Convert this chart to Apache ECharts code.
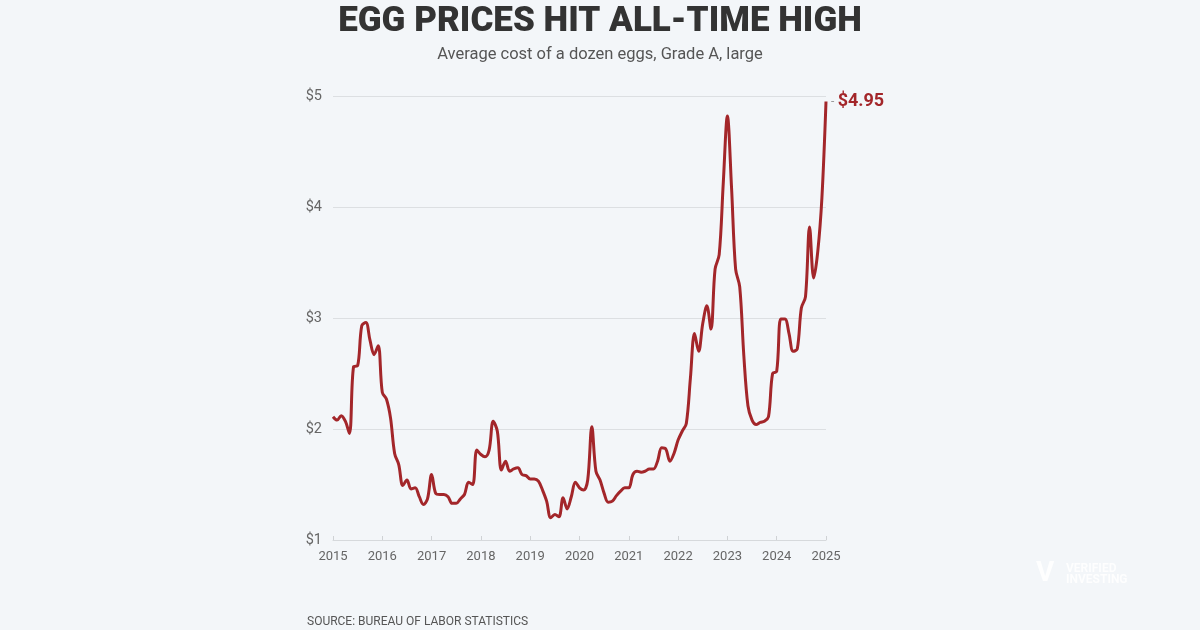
<!DOCTYPE html>
<html>
<head>
<meta charset="utf-8">
<script src="https://cdn.jsdelivr.net/npm/echarts@6/dist/echarts.min.js"></script>
<style>
html,body{margin:0;padding:0;background:#f3f6f9;}
#chart{width:1200px;height:630px;}
</style>
</head>
<body>
<div id="chart"></div>
<script>
// Monthly average price, dozen Grade A large eggs (USD)
var years = [2015, 2016, 2017, 2018, 2019, 2020, 2021, 2022, 2023, 2024, 2025];
var p2015 = [2.11, 2.08, 2.12, 2.07, 1.96, 2.56, 2.57, 2.93, 2.96, 2.80, 2.67, 2.75];
var p2016 = [2.33, 2.27, 2.10, 1.78, 1.68, 1.49, 1.54, 1.46, 1.47, 1.39, 1.32, 1.37];
var p2017 = [1.59, 1.42, 1.41, 1.41, 1.39, 1.33, 1.33, 1.37, 1.41, 1.52, 1.50, 1.81];
var p2018 = [1.77, 1.75, 1.81, 2.07, 1.98, 1.63, 1.71, 1.62, 1.64, 1.65, 1.59, 1.58];
var p2019 = [1.55, 1.55, 1.53, 1.45, 1.35, 1.20, 1.23, 1.21, 1.38, 1.28, 1.39, 1.52];
var p2020 = [1.47, 1.45, 1.54, 2.02, 1.62, 1.54, 1.42, 1.34, 1.35, 1.40, 1.44, 1.47];
var p2021 = [1.47, 1.59, 1.62, 1.61, 1.62, 1.64, 1.64, 1.71, 1.83, 1.82, 1.71, 1.78];
var p2022 = [1.90, 1.98, 2.05, 2.46, 2.86, 2.70, 2.95, 3.11, 2.90, 3.44, 3.57, 4.22];
var p2023 = [4.82, 4.18, 3.44, 3.28, 2.66, 2.21, 2.08, 2.04, 2.06, 2.07, 2.11, 2.50];
var p2024 = [2.52, 2.99, 2.99, 2.86, 2.70, 2.72, 3.09, 3.19, 3.82, 3.36, 3.60, 4.08];
var p2025 = [4.95];
var yTicks = [1, 2, 3, 4, 5];

var series = [p2015, p2016, p2017, p2018, p2019, p2020, p2021, p2022, p2023, p2024, p2025];
var values = [];
var months = [];
series.forEach(function (arr, i) {
  arr.forEach(function (v, m) {
    values.push(v);
    months.push(years[i] + '-' + (m + 1 < 10 ? '0' : '') + (m + 1));
  });
});

var chart = echarts.init(document.getElementById('chart'), null, {renderer: 'canvas'});
chart.setOption({
  backgroundColor: '#f3f6f9',
  animation: false,
  title: [{
    text: 'EGG PRICES HIT ALL-TIME HIGH',
    left: 'center',
    top: 0,
    textStyle: {fontFamily: 'Roboto', fontWeight: 900, fontSize: 35, color: '#333333'}
  }, {
    text: 'Average cost of a dozen eggs, Grade A, large',
    left: 'center',
    top: 41,
    textStyle: {fontFamily: 'Roboto', fontWeight: 'normal', fontSize: 16.5, color: '#555555'}
  }, {
    text: 'SOURCE: BUREAU OF LABOR STATISTICS',
    left: 302,
    top: 611,
    textStyle: {fontFamily: 'Roboto', fontWeight: 'normal', fontSize: 12, color: '#555555'}
  }],
  graphic: [{
    type: 'text',
    left: 1066,
    top: 563,
    style: {
      text: 'VERIFIED\nINVESTING',
      fill: 'rgba(255,255,255,0.85)',
      font: 'bold 12px Roboto',
      lineHeight: 11
    }
  }, {
    type: 'text',
    left: 1036,
    top: 560,
    style: {text: 'V', fill: 'rgba(255,255,255,0.85)', font: 'bold 28px Roboto'}
  }],
  grid: {left: 333, right: 374, top: 96, bottom: 90, containLabel: false},
  xAxis: {
    type: 'category',
    data: months,
    boundaryGap: false,
    axisLine: {show: true, lineStyle: {color: '#d6d9dc', width: 1}},
    axisTick: {show: true, interval: function (i, v) { return v.slice(5) === '01'; }, length: -4, lineStyle: {color: '#cfd2d5'}},
    axisLabel: {
      interval: function (i, v) { return v.slice(5) === '01'; },
      formatter: function (v) { return v.slice(0, 4); },
      fontFamily: 'Roboto', fontSize: 13, color: '#666666', margin: 10
    },
    splitLine: {show: false}
  },
  yAxis: {
    type: 'value',
    min: yTicks[0],
    max: yTicks[yTicks.length - 1],
    interval: 1,
    axisLine: {show: false},
    axisTick: {show: false},
    axisLabel: {
      formatter: function (v) { return '$' + v; },
      fontFamily: 'Roboto', fontSize: 14.5, color: '#666666', margin: 11, verticalAlign: 'middle'
    },
    splitLine: {show: true, lineStyle: {color: '#dcdfe2', width: 1}}
  },
  series: [{
    type: 'line',
    data: values,
    smooth: 0.35,
    symbol: 'none',
    lineStyle: {color: '#a3262a', width: 3},
    endLabel: {
      show: true,
      distance: 5,
      formatter: function (p) { return '{d|-} {v|$' + Number(p.value).toFixed(2) + '}'; },
      rich: {
        d: {color: '#999999', fontSize: 12, fontFamily: 'Roboto'},
        v: {color: '#a3262a', fontSize: 18, fontWeight: 'bold', fontFamily: 'Roboto'}
      }
    }
  }]
});
</script>
</body>
</html>
